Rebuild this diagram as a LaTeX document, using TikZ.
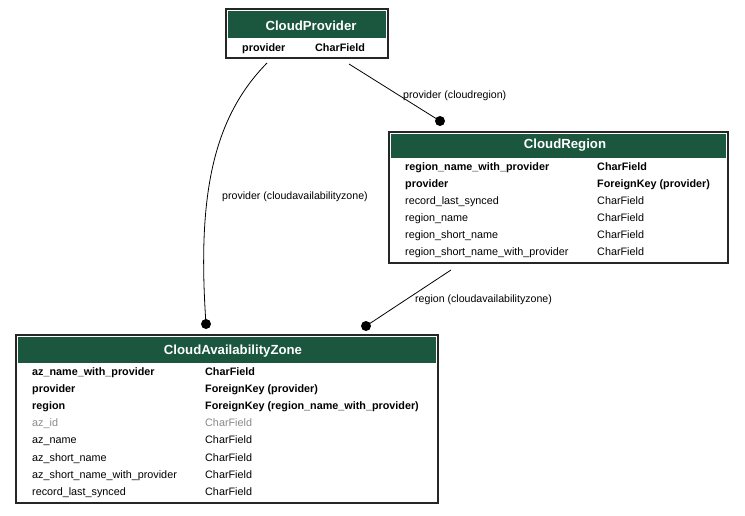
\documentclass[tikz,border=0pt]{standalone}
\usepackage{fontspec}
\setmainfont{Liberation Sans}
\definecolor{hdrgreen}{HTML}{1B563F}
\definecolor{dimgrey}{HTML}{8A8A8A}

\begin{document}
\begin{tikzpicture}[x=1pt,y=-1pt,
  frame/.style={draw=black!85,line width=1.1pt,fill=white},
  hdr/.style={fill=hdrgreen},
  title/.style={text=white,font=\fontsize{13.2}{15}\selectfont\bfseries,inner sep=0pt},
  fld/.style={anchor=west,inner sep=0pt,font=\fontsize{10.8}{12}\selectfont,text height=8.5pt,text depth=1.5pt},
  lbl/.style={anchor=west,inner sep=0pt,font=\fontsize{10.6}{12}\selectfont},
  dot/.style={circle,fill=black,inner sep=0pt,minimum size=10pt},
  fk/.style={line width=0.8pt}]
      \useasboundingbox (0,0) rectangle (745,515);

      % CloudProvider
      \draw[frame] (226,9) rectangle (388,58);
      \fill[hdr] (228,11) rectangle (386,38);
      \node[title] (cp) at (311,26) {CloudProvider};
      \node[fld] (cp1) at (242,48) {\bfseries provider};
      \node[fld] (cpt1) at (315,48) {\bfseries CharField};

      % CloudRegion
      \draw[frame] (389,132) rectangle (728,263);
      \fill[hdr] (391,134) rectangle (726,158);
      \node[title] (cr) at (565,145) {CloudRegion};
      \foreach \n/\t/\f [count=\i] in {
          region\_name\_with\_provider/CharField/\bfseries,
          provider/ForeignKey (provider)/\bfseries,
          record\_last\_synced/CharField/\mdseries,
          region\_name/CharField/\mdseries,
          region\_short\_name/CharField/\mdseries,
          region\_short\_name\_with\_provider/CharField/\mdseries} {
        \pgfmathsetmacro\y{167+17*(\i-1)}
        \node[fld] (cr\i) at (405,\y) {\f\n};
        \node[fld] (crt\i) at (597,\y) {\f\t};
      }

      % CloudAvailabilityZone
      \draw[frame] (16,335) rectangle (438,503);
      \fill[hdr] (18,337) rectangle (436,363);
      \node[title] (caz) at (233,351) {CloudAvailabilityZone};
      \foreach \n/\t/\f [count=\i] in {
          az\_name\_with\_provider/CharField/\bfseries,
          provider/ForeignKey (provider)/\bfseries,
          region/ForeignKey (region\_name\_with\_provider)/\bfseries,
          az\_id/CharField/\color{dimgrey},
          az\_name/CharField/\mdseries,
          az\_short\_name/CharField/\mdseries,
          az\_short\_name\_with\_provider/CharField/\mdseries,
          record\_last\_synced/CharField/\mdseries} {
        \pgfmathsetmacro\y{372+17.1*(\i-1)}
        \node[fld] (az\i) at (32,\y) {\f\n};
        \node[fld] (azt\i) at (205,\y) {\f\t};
      }

      % relations
      \coordinate (cpa) at (349,64);
      \coordinate (cpb) at (267,63);
      \coordinate (cra) at (451,270);
      \node[dot] (d1) at (440,121) {};
      \node[dot] (d2) at (206,324) {};
      \node[dot] (d3) at (366,326) {};
      \draw[fk] (cpa) -- (d1.center);
      \draw[fk] (cpb) .. controls (213,118) and (197,195) .. (d2.center);
      \draw[fk] (cra) -- (d3.center);
      \node[lbl] (l1) at (403,96) {provider (cloudregion)};
      \node[lbl] (l2) at (222,197) {provider (cloudavailabilityzone)};
      \node[lbl] (l3) at (415,300) {region (cloudavailabilityzone)};
    \end{tikzpicture}
\end{document}
